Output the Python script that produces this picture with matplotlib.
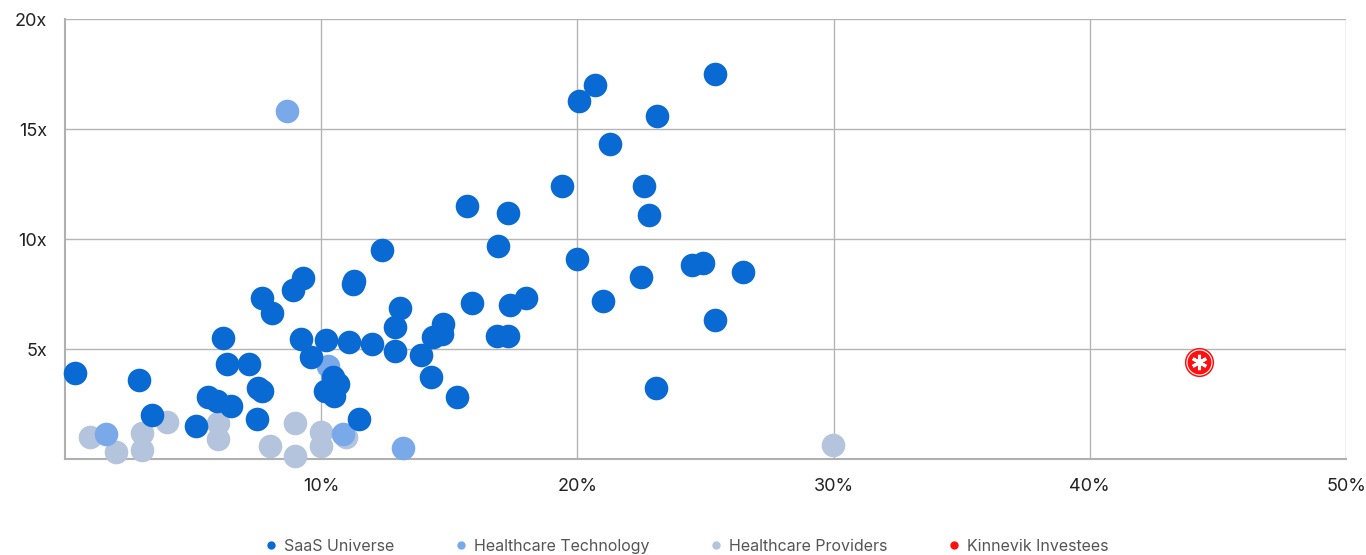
import matplotlib.pyplot as plt
from matplotlib.lines import Line2D
import numpy as np

# growth (%) vs EV/sales multiple (x)
saas_growth = [0.39, 2.9, 3.38, 5.1, 5.59, 5.92, 6.18, 6.31, 6.47, 7.18, 7.5, 7.55, 7.7,
               7.67, 8.07, 8.9, 9.28, 9.2, 9.6, 10.19, 10.15, 10.47, 10.67, 10.5, 11.28,
               11.25, 11.08, 11.49, 12.0, 12.39, 12.9, 12.9, 13.07, 13.9, 14.29, 14.38,
               14.7, 14.74, 15.29, 15.68, 15.87, 16.87, 16.89, 17.28, 17.3, 17.37, 17.99,
               19.39, 20.0, 20.07, 20.69, 20.99, 21.27, 22.48, 22.59, 22.78, 23.09, 23.07,
               24.49, 24.89, 25.37, 25.38, 26.48]
saas_multiple = [3.9, 3.6, 2.0, 1.5, 2.8, 2.62, 5.49, 4.32, 2.41, 4.32, 1.82, 3.22, 3.08,
                 7.3, 6.62, 7.7, 8.21, 5.44, 4.62, 5.42, 3.1, 3.74, 3.41, 2.86, 8.1,
                 7.95, 5.33, 1.8, 5.21, 9.5, 5.98, 4.9, 6.85, 4.73, 3.71, 5.55,
                 5.68, 6.14, 2.8, 11.5, 7.1, 5.6, 9.7, 11.2, 5.6, 7.0, 7.3,
                 12.4, 9.09, 16.29, 17.0, 7.2, 14.3, 8.29, 12.4, 11.09, 15.59, 3.23,
                 8.82, 8.89, 17.5, 6.3, 8.5]

tech_growth = [8.67, 1.6, 10.28, 10.86, 13.2]
tech_multiple = [15.8, 1.12, 4.23, 1.12, 0.51]

prov_growth = [0.98, 1.99, 2.99, 2.99, 3.99, 5.98, 5.98, 8.0, 8.99, 8.99, 9.99, 9.99, 10.97, 29.98]
prov_multiple = [1.01, 0.33, 1.2, 0.41, 1.7, 1.62, 0.91, 0.6, 1.62, 0.12, 1.24, 0.59, 1.01, 0.62]

kinnevik_growth = [44.26]
kinnevik_multiple = [4.4]

labels = ["SaaS Universe", "Healthcare Technology", "Healthcare Providers", "Kinnevik Investees"]
colors = ["#0A6AD4", "#7AA9EA", "#B4C4DC", "#FF1010"]

fig = plt.figure(figsize=(13.66, 5.55), dpi=100)
ax = fig.add_axes([65 / 1366, 1 - 459 / 555, (1346 - 65) / 1366, (459 - 19) / 555])

ms = 17
ax.plot(prov_growth, prov_multiple, 'o', ms=ms, color=colors[2], mec='none', clip_on=False, zorder=3)
ax.plot(tech_growth, tech_multiple, 'o', ms=ms, color=colors[1], mec='none', clip_on=False, zorder=4)
ax.plot(saas_growth, saas_multiple, 'o', ms=ms, color=colors[0], mec='none', clip_on=False, zorder=5)

# Kinnevik logo-like marker
ax.plot(kinnevik_growth, kinnevik_multiple, 'o', ms=21, color=colors[3], mec='none', zorder=6)
ax.plot(kinnevik_growth, kinnevik_multiple, 'o', ms=18, mfc='none', mec='white', mew=0.8, zorder=7)
ax.plot(kinnevik_growth, kinnevik_multiple, marker=(6, 2, 0), ms=11, color='white', mew=2.2, zorder=8)

ax.set_xlim(0, 50)
ax.set_ylim(0, 20)
ax.set_xticks([10, 20, 30, 40, 50])
ax.set_xticklabels([f"{v}%" for v in [10, 20, 30, 40, 50]])
ax.set_yticks([5, 10, 15, 20])
ax.set_yticklabels([f"{v}x" for v in [5, 10, 15, 20]])
ax.grid(True, color='#b5b5b5', lw=1)
ax.set_axisbelow(True)
for s in ['top', 'right']:
    ax.spines[s].set_visible(False)
for s in ['left', 'bottom']:
    ax.spines[s].set_color('#b0b0b0')
    ax.spines[s].set_linewidth(1.5)
ax.tick_params(length=0, labelsize=13, labelcolor='#222222')
ax.tick_params(axis='y', pad=13)
ax.tick_params(axis='x', pad=14)
for t in ax.get_xticklabels() + ax.get_yticklabels():
    t.set_fontfamily('Inter')

handles = [Line2D([], [], ls='none', marker='o', ms=6, color=c, mec='none') for c in colors]
leg = fig.legend(handles, labels, loc='center', bbox_to_anchor=(0.502, 0.016), ncol=4,
                 frameon=False, handletextpad=0.3, columnspacing=3.7, handlelength=1,
                 prop={'family': 'Inter', 'size': 11.5})
for t in leg.get_texts():
    t.set_color('#555555')

fig.savefig('out.png', dpi=100)
